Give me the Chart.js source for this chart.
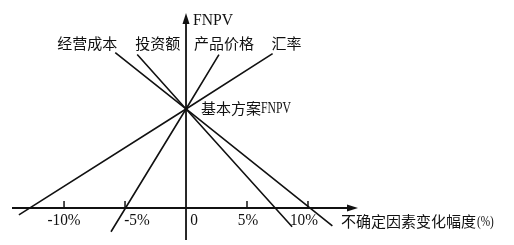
<!DOCTYPE html>
<html><head><meta charset="utf-8">
<script src="https://cdn.jsdelivr.net/npm/chart.js@4/dist/chart.umd.min.js"></script>
<style>html,body{margin:0;padding:0;background:#fff}#wrap{width:514px;height:245px}</style>
</head><body><div id="wrap"><canvas id="c"></canvas></div>
<script>
// Data (x: change of uncertain factor in %, y: FNPV, base FNPV = 100)
const categories = ['经营成本', '投资额', '产品价格', '汇率'];
const baseFNPV = 100;
const costX = [-5.8, 0, 12.0];   const costY = [157, 100, -18];
const investX = [-4.0, 0, 8.7];  const investY = [155, 100, -19];
const priceX = [-6.15, 0, 2.7];  const priceY = [-24, 100, 155];
const rateX = [-13.7, 0, 7.1];   const rateY = [-7, 100, 156];
const xTickValues = [-10, -5, 0, 5, 10];
const xTickLabels = ['-10%', '-5%', '0', '5%', '10%'];
const yAxisTitle = 'FNPV';
const xAxisTitle = '不确定因素变化幅度';
const xAxisUnit = '(%)';
const baseLabel = ['基本方案', 'FNPV'];

const seriesX = [costX, investX, priceX, rateX];
const seriesY = [costY, investY, priceY, rateY];
const datasets = categories.map((name, i) => ({
  label: name,
  data: seriesX[i].map((x, j) => ({x, y: seriesY[i][j]})),
  borderColor: '#111', borderWidth: 1.6, pointRadius: 0, fill: false, tension: 0
}));

const FONT_CN = '15px "Liberation Serif", "Noto Sans CJK SC"';

function scaledText(ctx, text, x, y, font, sx, align) {
  ctx.save();
  ctx.font = font;
  const w = ctx.measureText(text).width * sx;
  let left = x;
  if (align === 'center') left = x - w / 2;
  else if (align === 'right') left = x - w;
  ctx.translate(left, y);
  ctx.scale(sx, 1);
  ctx.textAlign = 'left';
  ctx.fillText(text, 0, 0);
  ctx.restore();
  return w;
}

const axesPlugin = {
  id: 'axesPlugin',
  beforeDatasetsDraw(chart) {
    const ctx = chart.ctx, xs = chart.scales.x, ys = chart.scales.y;
    const x0 = xs.getPixelForValue(0), y0 = ys.getPixelForValue(0);
    ctx.save();
    ctx.strokeStyle = '#111'; ctx.fillStyle = '#111'; ctx.lineWidth = 1.8;
    const xl = 12, xr = 358;
    ctx.beginPath(); ctx.moveTo(xl, y0); ctx.lineTo(xr - 8, y0); ctx.stroke();
    ctx.beginPath(); ctx.moveTo(xr, y0); ctx.lineTo(xr - 11, y0 - 3.5); ctx.lineTo(xr - 11, y0 + 3.5); ctx.closePath(); ctx.fill();
    const yt = 13, yb = 240;
    ctx.beginPath(); ctx.moveTo(x0, yb); ctx.lineTo(x0, yt + 8); ctx.stroke();
    ctx.beginPath(); ctx.moveTo(x0, yt); ctx.lineTo(x0 - 3.5, yt + 11); ctx.lineTo(x0 + 3.5, yt + 11); ctx.closePath(); ctx.fill();
    ctx.lineWidth = 1.5;
    xTickValues.forEach(v => {
      if (v === 0) return;
      const px = xs.getPixelForValue(v);
      ctx.beginPath(); ctx.moveTo(px, y0); ctx.lineTo(px, y0 - 7); ctx.stroke();
    });
    ctx.restore();
  },
  afterDatasetsDraw(chart) {
    const ctx = chart.ctx, xs = chart.scales.x, ys = chart.scales.y;
    const x0 = xs.getPixelForValue(0), y0 = ys.getPixelForValue(0);
    ctx.save();
    ctx.fillStyle = '#111';
    ctx.textBaseline = 'alphabetic';
    // tick labels
    const tickDx = [0, 12, 8, 1, -4];
    xTickValues.forEach((v, i) => {
      const px = xs.getPixelForValue(v);
      scaledText(ctx, xTickLabels[i], px + tickDx[i], y0 + 17, '17px "Liberation Serif"', 0.9, 'center');
    });
    // y axis title
    scaledText(ctx, yAxisTitle, x0 + 7, 25, '17px "Liberation Serif"', 0.92, 'left');
    // x axis title
    ctx.font = FONT_CN; ctx.textAlign = 'left';
    ctx.fillText(xAxisTitle, 341, y0 + 19);
    const tw = ctx.measureText(xAxisTitle).width;
    scaledText(ctx, xAxisUnit, 341 + tw + 1, y0 + 18, '15px "Liberation Serif"', 0.75, 'left');
    // base label
    const yb = ys.getPixelForValue(baseFNPV);
    ctx.font = FONT_CN; ctx.textAlign = 'left';
    ctx.fillText(baseLabel[0], x0 + 15, yb + 5);
    const w = ctx.measureText(baseLabel[0]).width;
    scaledText(ctx, baseLabel[1], x0 + 15 + w, yb + 4, '16px "Liberation Serif"', 0.73, 'left');
    // series labels near upper ends
    const anchors = [
      {align: 'right', dx: 2},
      {align: 'left', dx: -2},
      {align: 'center', dx: 5},
      {align: 'left', dx: -1}
    ];
    ctx.font = FONT_CN;
    categories.forEach((name, i) => {
      const a = anchors[i];
      const top = seriesY[i][0] > seriesY[i][2] ? 0 : 2;
      const px = xs.getPixelForValue(seriesX[i][top]);
      ctx.textAlign = a.align;
      ctx.fillText(name, px + a.dx, 49);
    });
    ctx.restore();
  }
};

new Chart(document.getElementById('c'), {
  type: 'line',
  data: {datasets},
  options: {
    responsive: true, maintainAspectRatio: false, animation: false,
    layout: {padding: 0},
    plugins: {legend: {display: false}, tooltip: {enabled: false}},
    scales: {
      x: {type: 'linear', display: false, min: -15.25, max: 26.89},
      y: {type: 'linear', display: false, min: -37.4, max: 210.1}
    }
  },
  plugins: [axesPlugin]
});
</script></body></html>
